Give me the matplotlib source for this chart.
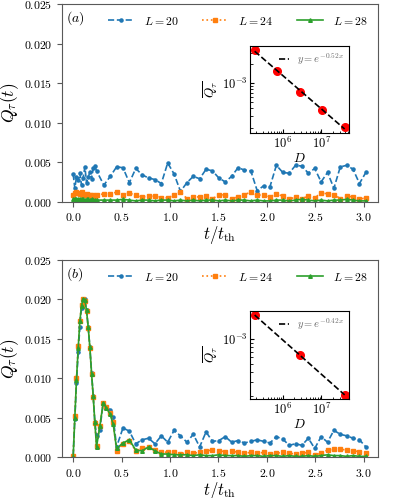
import numpy as np
import matplotlib
matplotlib.use("Agg")
import matplotlib.pyplot as plt
from matplotlib.ticker import FuncFormatter, NullFormatter, LogLocator

plt.rcParams["mathtext.fontset"] = "cm"
plt.rcParams["font.family"] = "serif"
plt.rcParams["font.serif"] = ["DejaVu Serif"]
plt.rcParams["axes.edgecolor"] = "0.35"

# ---------------------------------------------------------------------------
# data
# ---------------------------------------------------------------------------
T_DENSE = [0.000, 0.017, 0.034, 0.052, 0.069, 0.086, 0.103, 0.121, 0.138,
           0.155, 0.172, 0.190, 0.207, 0.224, 0.241]
T_COARSE = [0.448, 0.514, 0.580, 0.646, 0.712, 0.778, 0.844, 0.910, 0.976,
            1.042, 1.108, 1.174, 1.240, 1.306, 1.372, 1.438, 1.504, 1.570,
            1.636, 1.702, 1.768, 1.834, 1.900, 1.966, 2.032, 2.098, 2.164,
            2.230, 2.296, 2.362, 2.428, 2.494, 2.560, 2.626, 2.692, 2.758,
            2.824, 2.890, 2.956, 3.022]
t_a = T_DENSE + [0.317, 0.383] + T_COARSE
t_b = T_DENSE + [0.275, 0.310, 0.344, 0.379, 0.413] + T_COARSE

# panel (a)
q20_a = [0.0035, 0.0017, 0.0031, 0.0027, 0.0036, 0.0021, 0.0030, 0.0044, 0.0024,
         0.0031, 0.0037, 0.0029, 0.0042, 0.0045, 0.0039,
         0.0021, 0.0032,
         0.0044, 0.0043, 0.0024, 0.0042, 0.0034, 0.0030, 0.0028, 0.0023, 0.0049, 0.0035,
         0.0013, 0.0024, 0.0032, 0.0029, 0.0041, 0.0039, 0.0030, 0.0025, 0.0032, 0.0043,
         0.0040, 0.0039, 0.0014, 0.0020, 0.0019, 0.0046, 0.0037, 0.0036, 0.0046, 0.0045,
         0.0036, 0.0042, 0.0025, 0.0037, 0.0017, 0.0044, 0.0046, 0.0041, 0.0023, 0.0037]
q24_a = [0.0008, 0.0011, 0.0012, 0.0011, 0.0010, 0.0012, 0.0009, 0.0008, 0.0010,
         0.0008, 0.0009, 0.0007, 0.0009, 0.0007, 0.0008,
         0.0010, 0.0010,
         0.0012, 0.0009, 0.0011, 0.0008, 0.0006, 0.0007, 0.0007, 0.0005, 0.0005, 0.0008,
         0.0012, 0.0004, 0.0006, 0.0006, 0.0007, 0.0004, 0.0008, 0.0009, 0.0004, 0.0006,
         0.0009, 0.0012, 0.0008, 0.0009, 0.0006, 0.0010, 0.0007, 0.0003, 0.0006, 0.0004,
         0.0007, 0.0005, 0.0011, 0.0010, 0.0009, 0.0004, 0.0007, 0.0006, 0.0003, 0.0005]
q28_a = [0.0003, 0.0004, 0.0004, 0.0003, 0.0004, 0.0003, 0.0003, 0.0002, 0.0003,
         0.0003, 0.0002, 0.0003, 0.0002, 0.0002, 0.0002,
         0.0002, 0.0002,
         0.0002, 0.0003, 0.0002, 0.0001, 0.0002, 0.0002, 0.0001, 0.0002, 0.0002, 0.0001,
         0.0002, 0.0001, 0.0002, 0.0001, 0.0002, 0.0002, 0.0001, 0.0002, 0.0001, 0.0002,
         0.0002, 0.0001, 0.0002, 0.0001, 0.0001, 0.0002, 0.0002, 0.0001, 0.0002, 0.0003,
         0.0002, 0.0001, 0.0002, 0.0001, 0.0002, 0.0002, 0.0003, 0.0002, 0.0001, 0.0001]

# panel (b)
q20_b = [0.0002, 0.0049, 0.0094, 0.0133, 0.0165, 0.0189, 0.0199, 0.0200, 0.0186,
         0.0165, 0.0140, 0.0107, 0.0077, 0.0044, 0.0027,
         0.0035, 0.0068, 0.0064, 0.0060, 0.0051,
         0.0013, 0.0037, 0.0033, 0.0017, 0.0022, 0.0024, 0.0017, 0.0027, 0.0019, 0.0034,
         0.0027, 0.0019, 0.0029, 0.0013, 0.0032, 0.0020, 0.0021, 0.0026, 0.0019, 0.0021,
         0.0018, 0.0020, 0.0022, 0.0020, 0.0018, 0.0026, 0.0023, 0.0015, 0.0017, 0.0015,
         0.0024, 0.0011, 0.0026, 0.0019, 0.0034, 0.0029, 0.0027, 0.0024, 0.0022, 0.0013]
q24_b = [0.0002, 0.0052, 0.0100, 0.0141, 0.0173, 0.0193, 0.0201, 0.0198, 0.0185,
         0.0164, 0.0139, 0.0105, 0.0076, 0.0043, 0.0014,
         0.0040, 0.0069, 0.0063, 0.0056, 0.0044,
         0.0008, 0.0017, 0.0020, 0.0008, 0.0011, 0.0013, 0.0009, 0.0007, 0.0006, 0.0006,
         0.0004, 0.0006, 0.0005, 0.0006, 0.0008, 0.0009, 0.0008, 0.0007, 0.0008, 0.0006,
         0.0005, 0.0006, 0.0005, 0.0006, 0.0004, 0.0005, 0.0006, 0.0005, 0.0004, 0.0005,
         0.0006, 0.0003, 0.0005, 0.0009, 0.0010, 0.0010, 0.0009, 0.0008, 0.0007, 0.0005]
q28_b = [0.0000, 0.0050, 0.0098, 0.0139, 0.0172, 0.0192, 0.0201, 0.0199, 0.0186,
         0.0165, 0.0140, 0.0106, 0.0077, 0.0044, 0.0013,
         0.0039, 0.0069, 0.0062, 0.0055, 0.0042,
         0.0011, 0.0018, 0.0022, 0.0009, 0.0008, 0.0013, 0.0008, 0.0004, 0.0004, 0.0003,
         0.0003, 0.0003, 0.0002, 0.0003, 0.0002, 0.0002, 0.0003, 0.0002, 0.0002, 0.0002,
         0.0001, 0.0002, 0.0002, 0.0001, 0.0002, 0.0002, 0.0001, 0.0002, 0.0001, 0.0001,
         0.0002, 0.0001, 0.0002, 0.0003, 0.0002, 0.0002, 0.0001, 0.0002, 0.0001, 0.0001]

# insets: time-averaged Q vs Hilbert-space dimension D = C(L, L/2)
D_a = [184756, 705432, 2704156, 10400600, 40116600]
qbar_a = [3.31e-3, 1.52e-3, 7.23e-4, 3.83e-4, 2.02e-4]
D_b = [184756, 2704156, 40116600]
qbar_b = [2.00e-3, 6.38e-4, 2.07e-4]
slope_a = 0.52
slope_b = 0.42

SERIES_STYLE = [
    ("$L=20$", "#1f77b4", "--", "."),
    ("$L=24$", "#ff7f0e", ":", "s"),
    ("$L=28$", "#2ca02c", "-", "^"),
]
MSIZE = {".": 4.5, "s": 2.4, "^": 2.6}


def draw_main(ax, t, series, tag):
    for q, (label, col, ls, mk) in zip(series, SERIES_STYLE):
        ax.plot(t, q, color=col, linestyle=ls, marker=mk, markersize=MSIZE[mk],
                linewidth=1.2, label=label)
    ax.set_xlim(-0.117, 3.15)
    ax.set_ylim(0, 0.025)
    ax.set_yticks([0.0, 0.005, 0.010, 0.015, 0.020, 0.025])
    ax.set_xticks([0.0, 0.5, 1.0, 1.5, 2.0, 2.5, 3.0])
    ax.yaxis.set_major_formatter(FuncFormatter(lambda v, _: r"$%.3f$" % v))
    ax.xaxis.set_major_formatter(FuncFormatter(lambda v, _: r"$%.1f$" % v))
    ax.tick_params(labelsize=8.5, colors="0.35", labelcolor="black", length=3.5)
    ax.set_xlabel(r"$t/t_{\rm th}$", fontsize=12, labelpad=0)
    ax.set_ylabel(r"$Q_\tau(t)$", fontsize=12.5, labelpad=2)
    ax.text(0.012, 0.975, tag, transform=ax.transAxes, ha="left", va="top",
            fontsize=10)
    ax.legend(loc="upper right", ncol=3, frameon=False, fontsize=8.5,
              handlelength=2.2, columnspacing=2.0, handletextpad=0.85,
              bbox_to_anchor=(1.0, 1.0))


def draw_inset(ax, D, qbar, slope):
    D = np.array(D, dtype=float)
    qbar = np.array(qbar)
    ax.plot(D, qbar, "o", color="red", markersize=5.5, zorder=2)
    # fitted power law with the quoted exponent
    c = np.mean(np.log(qbar) + slope * np.log(D))
    ax.plot(D, np.exp(c) * D ** (-slope), "k--", linewidth=1.2, zorder=3,
            label=r"$y = e^{-%.2fx}$" % slope)
    ax.set_xscale("log")
    ax.set_yscale("log")
    ax.xaxis.set_major_locator(LogLocator(base=10))
    ax.xaxis.set_major_formatter(FuncFormatter(lambda v, _: r"$10^{%d}$" % round(np.log10(v))))
    ax.yaxis.set_major_formatter(FuncFormatter(lambda v, _: r"$10^{%d}$" % round(np.log10(v))))
    ax.xaxis.set_minor_formatter(NullFormatter())
    ax.yaxis.set_minor_formatter(NullFormatter())
    ax.tick_params(which="both", direction="in", labelsize=9, pad=2)
    ax.tick_params(which="major", length=3)
    ax.tick_params(which="minor", length=1.8)
    ax.set_xlabel(r"$D$", fontsize=9.5, labelpad=1)
    ax.set_ylabel(r"$\overline{Q_\tau}$", fontsize=9.5, labelpad=1)
    for sp in ax.spines.values():
        sp.set_edgecolor("black")
    ax.legend(loc="upper right", frameon=False, fontsize=7.5, handlelength=0.9,
              handletextpad=0.8, labelcolor="0.4", borderaxespad=0.1)


fig = plt.figure(figsize=(3.99, 4.98), dpi=100)

ax_a = fig.add_axes([0.155, 0.595, 0.793, 0.397])
draw_main(ax_a, t_a, [q20_a, q24_a, q28_a], r"$(a)$")
ins_a = fig.add_axes([0.627, 0.733, 0.248, 0.175])
draw_inset(ins_a, D_a, qbar_a, slope_a)

ax_b = fig.add_axes([0.155, 0.082, 0.793, 0.396])
draw_main(ax_b, t_b, [q20_b, q24_b, q28_b], r"$(b)$")
ins_b = fig.add_axes([0.627, 0.199, 0.248, 0.177])
draw_inset(ins_b, D_b, qbar_b, slope_b)

fig.savefig("out.png", dpi=100)
